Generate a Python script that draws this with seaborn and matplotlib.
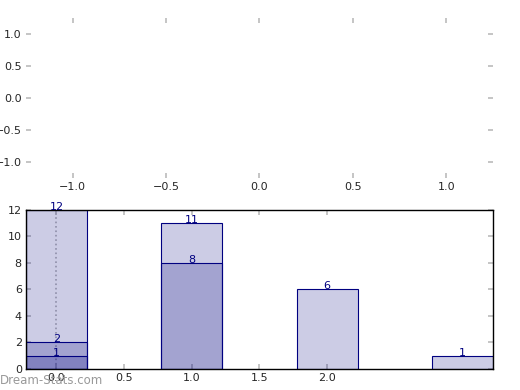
import numpy as np
import pandas as pd
import seaborn as sns
import matplotlib
matplotlib.use("Agg")
import matplotlib.pyplot as plt

# data
pos_a = [0, 1, 2, 3]
val_a = [12, 11, 6, 1]
pos_b = [0, 1]
val_b = [2, 8]
pos_c = [0]
val_c = [1]
xtick_vals = [0.0, 0.5, 1.0, 1.5, 2.0]
ytick_vals = [0, 2, 4, 6, 8, 10, 12]
top_ticks = [-1.0, -0.5, 0.0, 0.5, 1.0]

sns.set_style("white")
plt.rcParams['font.family'] = ['DejaVu Sans']
plt.rcParams['font.size'] = 8

fig = plt.figure(figsize=(5.2, 3.9), dpi=100)

# empty upper panel
ax1 = fig.add_axes([0.05, 0.544, 0.898, 0.41])
ax1.set_xlim(-1.25, 1.25)
ax1.set_ylim(-1.25, 1.25)
ax1.set_xticks(top_ticks)
ax1.set_yticks(top_ticks)
for s in ax1.spines.values():
    s.set_visible(False)
ax1.tick_params(direction='in', length=3.5, width=1.2, color='#bbbbbb',
                top=True, right=True, bottom=True, left=True, labelsize=8, pad=3)

# overlapping bars
ax2 = fig.add_axes([0.05, 0.054, 0.898, 0.408])
for pos, val in [(pos_a, val_a), (pos_b, val_b), (pos_c, val_c)]:
    df = pd.DataFrame({"x": pos, "y": val})
    n0 = len(ax2.patches)
    sns.barplot(data=df, x="x", y="y", native_scale=True, width=0.45, ax=ax2)
    for p in ax2.patches[n0:]:
        p.set_facecolor((0, 0, 0.5, 0.2))
        p.set_edgecolor('navy')
        p.set_linewidth(0.8)
    for x, y in zip(pos, val):
        ax2.text(x, y, str(y), color='navy', ha='center', va='baseline', fontsize=8)

ax2.axvline(0, ls=':', color='gray', alpha=0.6, lw=1.2, zorder=0.5)
ax2.set_xlim(-0.225, 3.225)
ax2.set_ylim(0, 12)
ax2.set_xticks(xtick_vals)
ax2.set_xticklabels([f"{v:.1f}" for v in xtick_vals])
ax2.set_yticks(ytick_vals)
ax2.set_xlabel("")
ax2.set_ylabel("")
for s in ax2.spines.values():
    s.set_color('black')
    s.set_linewidth(1)
ax2.tick_params(direction='in', length=3.5, width=1.2, color='#bbbbbb',
                top=True, right=True, bottom=True, left=True, labelsize=8, pad=3)

fig.text(0.0, 0.015, "Dream-Stats.com", color='#999999', fontsize=8.5)

fig.savefig("out.png", dpi=100)
